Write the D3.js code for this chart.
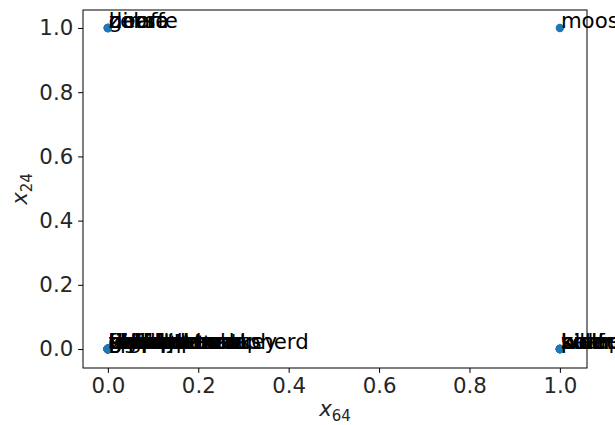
<!DOCTYPE html>
<html>
<head>
<meta charset="utf-8">
<script src="https://cdn.jsdelivr.net/npm/d3@7"></script>
<style>
  body { margin: 0; background: #fff; }
  text { font-family: "DejaVu Sans", sans-serif; }
</style>
</head>
<body>
<svg width="615" height="425"></svg>
<script>
// animals placed on the four corners of (x_64, x_24)
var topLeftNames = ["horse", "deer", "zebra", "giraffe"];
var topRightNames = ["moose"];
var bottomRightNames = ["wolf", "seal", "walrus", "polar+bear", "blue+whale", "killer+whale", "humpback+whale"];
var bottomLeftNames = ["antelope", "grizzly+bear", "beaver", "dalmatian", "persian+cat", "siamese+cat",
  "skunk", "mole", "tiger", "hippopotamus", "leopard", "spider+monkey", "elephant", "gorilla", "ox",
  "sheep", "chimpanzee", "hamster", "squirrel", "rhinoceros", "rabbit", "bat", "chihuahua", "rat",
  "weasel", "otter", "buffalo", "giant+panda", "bobcat", "pig", "lion", "mouse", "collie", "raccoon",
  "cow", "dolphin", "fox", "german+shepherd"];
var xTicks = [0.0, 0.2, 0.4, 0.6, 0.8, 1.0];
var yTicks = [0.0, 0.2, 0.4, 0.6, 0.8, 1.0];

var points = [];
topLeftNames.forEach(function(n) { points.push({name: n, x: 0, y: 1}); });
topRightNames.forEach(function(n) { points.push({name: n, x: 1, y: 1}); });
bottomRightNames.forEach(function(n) { points.push({name: n, x: 1, y: 0}); });
bottomLeftNames.forEach(function(n) { points.push({name: n, x: 0, y: 0}); });

var svg = d3.select("svg"),
    plotL = 83, plotR = 587, plotT = 10, plotB = 368;

var x = d3.scaleLinear().domain([-0.055, 1.06]).range([plotL, plotR]),
    y = d3.scaleLinear().domain([-0.059, 1.056]).range([plotB, plotT]);

var fs = 21.3;

// axes
var xAxis = svg.append("g")
    .attr("transform", "translate(0," + plotB + ")")
    .call(d3.axisBottom(x).tickValues(xTicks).tickFormat(d3.format(".1f")).tickSize(4.9).tickPadding(5));
var yAxis = svg.append("g")
    .attr("transform", "translate(" + plotL + ",0)")
    .call(d3.axisLeft(y).tickValues(yTicks).tickFormat(d3.format(".1f")).tickSize(4.9).tickPadding(4.9));

[xAxis, yAxis].forEach(function(a) {
  a.select(".domain").remove();
  a.selectAll("line").attr("stroke", "#000").attr("stroke-width", 1);
  a.selectAll("text").attr("font-size", fs).attr("fill", "#262626")
    .attr("font-family", "DejaVu Sans, sans-serif");
});

svg.append("rect")
    .attr("x", plotL).attr("y", plotT)
    .attr("width", plotR - plotL).attr("height", plotB - plotT)
    .attr("fill", "none").attr("stroke", "#000").attr("stroke-width", 1);

// points
svg.selectAll(".pt")
  .data(points)
  .enter().append("circle")
    .attr("class", "pt")
    .attr("cx", function(d) { return x(d.x); })
    .attr("cy", function(d) { return y(d.y); })
    .attr("r", 4.2)
    .attr("fill", "#1f77b4");

// labels
svg.selectAll(".lbl")
  .data(points)
  .enter().append("text")
    .attr("class", "lbl")
    .attr("x", function(d) { return x(d.x) + 1; })
    .attr("y", function(d) { return y(d.y); })
    .attr("font-size", fs)
    .attr("fill", "#000")
    .text(function(d) { return d.name; });

// axis titles
var xl = svg.append("text")
    .attr("x", (plotL + plotR) / 2)
    .attr("y", 416)
    .attr("text-anchor", "middle")
    .attr("font-size", fs)
    .attr("fill", "#262626");
xl.append("tspan").attr("font-style", "italic").text("x");
xl.append("tspan").attr("dy", 5).attr("font-size", 15).text("64");

var yl = svg.append("text")
    .attr("transform", "translate(27," + ((plotT + plotB) / 2) + ") rotate(-90)")
    .attr("text-anchor", "middle")
    .attr("font-size", fs)
    .attr("fill", "#262626");
yl.append("tspan").attr("font-style", "italic").text("x");
yl.append("tspan").attr("dy", 5).attr("font-size", 15).text("24");
</script>
</body>
</html>
